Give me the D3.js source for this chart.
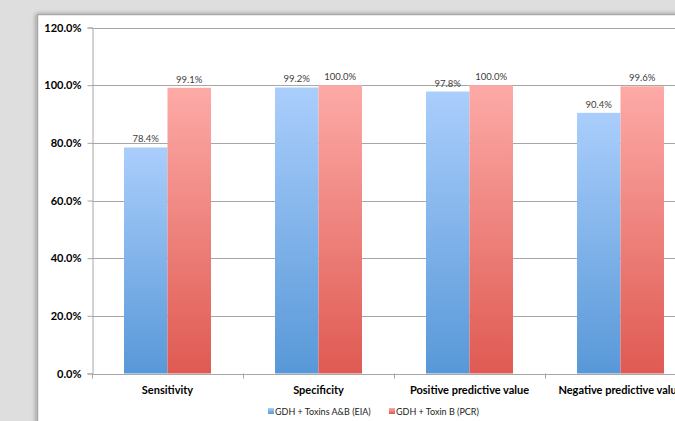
<!DOCTYPE html>
<html>
<head>
<meta charset="utf-8">
<script src="https://cdn.jsdelivr.net/npm/d3@7"></script>
<style>
  body { margin: 0; background: #dedede; overflow: hidden; }
  svg { display: block; }
</style>
</head>
<body>
<div id="chart"></div>
<script>
// chart data
const categories = ["Sensitivity", "Specificity", "Positive predictive value", "Negative predictive value"];
const seriesNames = ["GDH + Toxins A&B (EIA)", "GDH + Toxin B (PCR)"];
const eiaValues = [78.4, 99.2, 97.8, 90.4];
const pcrValues = [99.1, 100.0, 100.0, 99.6];
const yTicks = [0, 20, 40, 60, 80, 100, 120];

const W = 675, H = 421;
const svg = d3.select("#chart").append("svg").attr("width", W).attr("height", H);

// gradients for the bars
const defs = svg.append("defs");
const grads = [["gBlue", "#aacefc", "#5898d8"], ["gRed", "#fdaaa7", "#df5a52"]];
grads.forEach(g => {
    let lg = defs.append("linearGradient").attr("id", g[0])
        .attr("x1", 0).attr("y1", 0).attr("x2", 0).attr("y2", 1);
    lg.append("stop").attr("offset", "0%").attr("stop-color", g[1]);
    lg.append("stop").attr("offset", "100%").attr("stop-color", g[2]);
});
const shadow = defs.append("filter").attr("id", "sh").attr("x", "-10%").attr("y", "-10%").attr("width", "130%").attr("height", "130%");
shadow.append("feGaussianBlur").attr("in", "SourceAlpha").attr("stdDeviation", 2);
shadow.append("feOffset").attr("dx", -1).attr("dy", 0).attr("result", "b");
shadow.append("feComponentTransfer").append("feFuncA").attr("type", "linear").attr("slope", 0.35);
const fm = shadow.append("feMerge");
fm.append("feMergeNode");
fm.append("feMergeNode").attr("in", "SourceGraphic");

// white panel
svg.append("rect")
    .attr("x", 37.5).attr("y", 14.5).attr("width", 700).attr("height", 450)
    .attr("fill", "#fff").attr("stroke", "#a8a8a8").attr("stroke-width", 1.5)
    .attr("filter", "url(#sh)");

const plotL = 92, plotR = 696, plotT = 27.5, plotB = 373.5;

const x = d3.scaleBand().domain(categories).range([plotL, plotR]);
const x1 = d3.scaleBand().domain(seriesNames).range([x.bandwidth() * 0.212, x.bandwidth() * 0.788]);
const y = d3.scaleLinear().domain([0, 120]).range([plotB, plotT]);

const font = "Lato, 'Open Sans', sans-serif";

// gridlines
svg.append("g").selectAll("line").data(yTicks.filter(d => d > 0)).enter().append("line")
    .attr("x1", plotL).attr("x2", W).attr("y1", d => Math.round(y(d)) + 0.5).attr("y2", d => Math.round(y(d)) + 0.5)
    .attr("stroke", "#a6a6a6").attr("stroke-width", 1);

// y axis
const yAxis = svg.append("g").attr("transform", "translate(" + (plotL + 0.5) + ",0)")
    .call(d3.axisLeft(y).tickValues(yTicks).tickSize(5).tickFormat(d => d.toFixed(1) + "%"));
yAxis.select(".domain").attr("stroke", "#a6a6a6");
yAxis.selectAll(".tick line").attr("stroke", "#a6a6a6");
yAxis.selectAll("text").attr("font-family", font).attr("font-weight", "bold")
    .attr("font-size", "11px").attr("fill", "#000").attr("dx", "-3px");

// bars
const data = categories.map((c, i) => ({ cat: c, vals: [eiaValues[i], pcrValues[i]] }));
const groups = svg.append("g").selectAll("g").data(data).enter().append("g")
    .attr("transform", d => "translate(" + x(d.cat) + ",0)");

groups.selectAll("rect").data(d => d.vals.map((v, j) => ({ v: v, s: seriesNames[j], j: j })))
    .enter().append("rect")
    .attr("x", d => x1(d.s))
    .attr("y", d => y(d.v))
    .attr("width", x1.bandwidth())
    .attr("height", d => plotB - y(d.v))
    .attr("fill", d => d.j === 0 ? "url(#gBlue)" : "url(#gRed)");

groups.selectAll("text").data(d => d.vals.map((v, j) => ({ v: v, s: seriesNames[j] })))
    .enter().append("text")
    .attr("x", d => x1(d.s) + x1.bandwidth() / 2)
    .attr("y", d => y(d.v) - 5)
    .attr("text-anchor", "middle")
    .attr("font-family", font).attr("font-size", "9.5px").attr("fill", "#404040")
    .text(d => d.v.toFixed(1) + "%");

// x axis
const xAxis = svg.append("g").attr("transform", "translate(0," + (plotB + 0.5) + ")")
    .call(d3.axisBottom(x).tickSize(0).tickSizeOuter(0));
xAxis.select(".domain").attr("stroke", "#a6a6a6");
xAxis.selectAll("text").attr("font-family", font).attr("font-weight", "bold")
    .attr("font-size", "11px").attr("fill", "#000").attr("dy", "1.5em");
// category separators
svg.append("g").selectAll("line").data(categories).enter().append("line")
    .attr("x1", d => x(d) + 0.5).attr("x2", d => x(d) + 0.5)
    .attr("y1", plotB).attr("y2", plotB + 5)
    .attr("stroke", "#a6a6a6");

// legend
const legend = svg.append("g").attr("transform", "translate(268,415)");
const lx = [0, 121];
seriesNames.forEach((s, i) => {
    let g = legend.append("g").attr("transform", "translate(" + lx[i] + ",0)");
    g.append("rect").attr("x", 0).attr("y", -7).attr("width", 6).attr("height", 6)
        .attr("fill", i === 0 ? "url(#gBlue)" : "url(#gRed)");
    g.append("text").attr("x", 7).attr("y", 0)
        .attr("font-family", font).attr("font-size", "9px").attr("fill", "#222")
        .text(s);
});
</script>
</body>
</html>
